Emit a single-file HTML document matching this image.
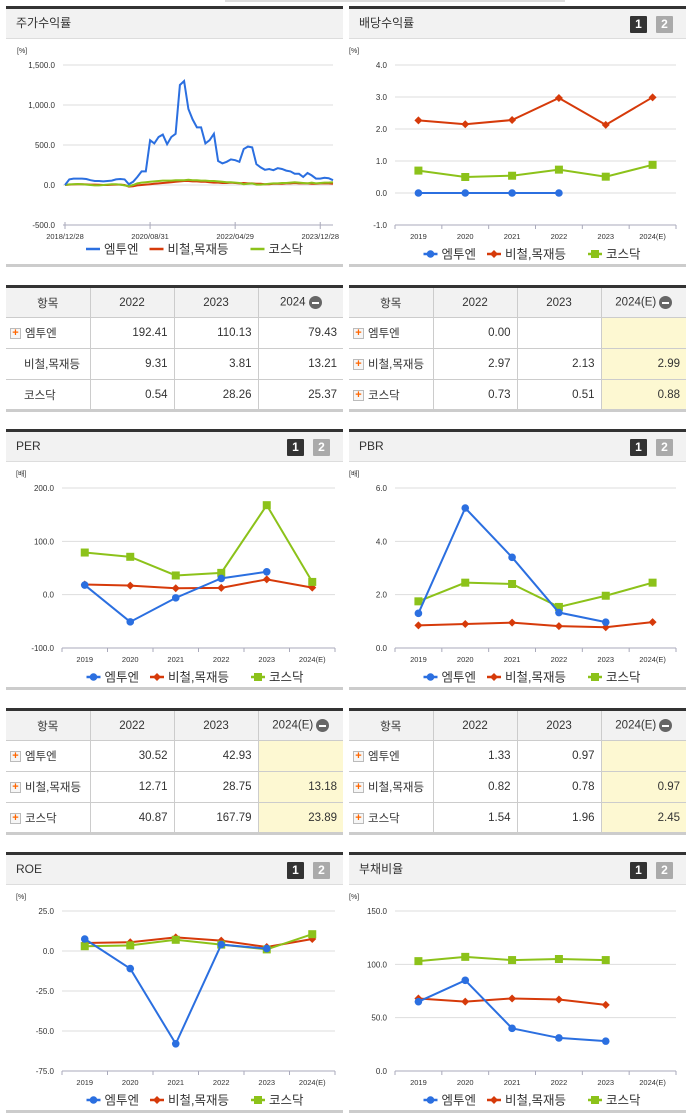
<!DOCTYPE html>
<html><head><meta charset="utf-8">
<style>
*{margin:0;padding:0;box-sizing:border-box}
body{width:691px;height:1115px;background:#fff;position:relative;overflow:hidden;font-family:"Liberation Sans","Noto Sans CJK KR",sans-serif;color:#333}
.abs{position:absolute}
.hdr{position:absolute;height:33px;background:#f2f2f2;border-top:3px solid #333;border-bottom:1px solid #ddd;font-size:12px;line-height:29px;padding-left:10px;color:#333}
.bx{position:absolute;top:7px;width:17px;height:17px;color:#fff;font-size:12px;font-weight:bold;line-height:17px;text-align:center;border-radius:1px}
.foot{position:absolute;height:3px;background:#ccc}
table{position:absolute;border-collapse:collapse;font-size:11.5px;border-top:3px solid #333;border-bottom:3px solid #ccc}
td,th{border:1px solid #ccc;height:31px;font-weight:normal}
tr td:first-child,tr th:first-child{border-left:none}
tr td:last-child,tr th:last-child{border-right:none}
th{background:#f2f2f2;text-align:center}
td{text-align:right;padding-right:6px}
td.n{text-align:left;padding-left:4px}
td.y{background:#fdf8d2}
.pl{display:inline-block;width:11px;height:11px;border:1px solid #bbb;background:#f6f6f6;color:#f60;font-size:11px;line-height:9px;text-align:center;font-weight:bold;vertical-align:middle;margin-right:4px}
.mi{display:inline-block;width:13px;height:13px;border-radius:50%;background:#666;vertical-align:middle;position:relative;margin-left:3px}
.mi:after{content:"";position:absolute;left:3px;top:6px;width:7px;height:2px;background:#fff}
</style></head><body>
<div class="abs" style="left:225px;top:0;width:340px;height:2px;background:#ddd"></div>

<div class="hdr" style="left:6px;top:6px;width:337px">주가수익률</div>
<div class="hdr" style="left:349px;top:6px;width:337px">배당수익률<div class="bx" style="left:281px;background:#333">1</div><div class="bx" style="left:307px;background:#aaa">2</div></div>
<div class="hdr" style="left:6px;top:429px;width:337px">PER<div class="bx" style="left:281px;background:#333">1</div><div class="bx" style="left:307px;background:#aaa">2</div></div>
<div class="hdr" style="left:349px;top:429px;width:337px">PBR<div class="bx" style="left:281px;background:#333">1</div><div class="bx" style="left:307px;background:#aaa">2</div></div>
<div class="hdr" style="left:6px;top:852px;width:337px">ROE<div class="bx" style="left:281px;background:#333">1</div><div class="bx" style="left:307px;background:#aaa">2</div></div>
<div class="hdr" style="left:349px;top:852px;width:337px">부채비율<div class="bx" style="left:281px;background:#333">1</div><div class="bx" style="left:307px;background:#aaa">2</div></div>

<div class="foot" style="left:6px;top:264px;width:337px"></div>
<div class="foot" style="left:349px;top:264px;width:337px"></div>
<div class="foot" style="left:6px;top:687px;width:337px"></div>
<div class="foot" style="left:349px;top:687px;width:337px"></div>
<div class="foot" style="left:6px;top:1110px;width:337px"></div>
<div class="foot" style="left:349px;top:1110px;width:337px"></div>

<table style="left:6px;top:285px;width:337px">
<tr><th style="width:84px">항목</th><th style="width:84px">2022</th><th style="width:84px">2023</th><th>2024<span class="mi"></span></th></tr>
<tr><td class="n"><span class="pl">+</span>엠투엔</td><td>192.41</td><td>110.13</td><td>79.43</td></tr>
<tr><td class="n" style="padding-left:18px">비철,목재등</td><td>9.31</td><td>3.81</td><td>13.21</td></tr>
<tr><td class="n" style="padding-left:18px">코스닥</td><td>0.54</td><td>28.26</td><td>25.37</td></tr>
</table>
<table style="left:349px;top:285px;width:337px">
<tr><th style="width:84px">항목</th><th style="width:84px">2022</th><th style="width:84px">2023</th><th>2024(E)<span class="mi"></span></th></tr>
<tr><td class="n"><span class="pl">+</span>엠투엔</td><td>0.00</td><td></td><td class="y"></td></tr>
<tr><td class="n"><span class="pl">+</span>비철,목재등</td><td>2.97</td><td>2.13</td><td class="y">2.99</td></tr>
<tr><td class="n"><span class="pl">+</span>코스닥</td><td>0.73</td><td>0.51</td><td class="y">0.88</td></tr>
</table>
<table style="left:6px;top:708px;width:337px">
<tr><th style="width:84px">항목</th><th style="width:84px">2022</th><th style="width:84px">2023</th><th>2024(E)<span class="mi"></span></th></tr>
<tr><td class="n"><span class="pl">+</span>엠투엔</td><td>30.52</td><td>42.93</td><td class="y"></td></tr>
<tr><td class="n"><span class="pl">+</span>비철,목재등</td><td>12.71</td><td>28.75</td><td class="y">13.18</td></tr>
<tr><td class="n"><span class="pl">+</span>코스닥</td><td>40.87</td><td>167.79</td><td class="y">23.89</td></tr>
</table>
<table style="left:349px;top:708px;width:337px">
<tr><th style="width:84px">항목</th><th style="width:84px">2022</th><th style="width:84px">2023</th><th>2024(E)<span class="mi"></span></th></tr>
<tr><td class="n"><span class="pl">+</span>엠투엔</td><td>1.33</td><td>0.97</td><td class="y"></td></tr>
<tr><td class="n"><span class="pl">+</span>비철,목재등</td><td>0.82</td><td>0.78</td><td class="y">0.97</td></tr>
<tr><td class="n"><span class="pl">+</span>코스닥</td><td>1.54</td><td>1.96</td><td class="y">2.45</td></tr>
</table>

<svg id="cv" class="abs" style="left:0;top:0" width="691" height="1115" font-family="Liberation Sans, Noto Sans CJK KR, sans-serif"></svg>

<script>
const srM2N=[0,70,80,80,80,75,60,50,50,45,50,55,70,75,70,10,40,100,170,170,560,520,600,630,510,600,640,1250,1300,950,820,720,720,520,560,640,300,270,290,320,310,290,450,480,470,260,220,190,200,185,210,200,180,170,140,140,100,150,120,80,80,90,85,60];
const srInd=[0,5,8,10,10,8,5,5,3,0,0,2,5,5,0,-20,-15,-5,0,5,10,15,20,25,30,35,40,45,50,50,45,45,40,40,35,30,30,25,25,30,25,20,25,20,20,15,15,10,10,15,15,15,20,20,25,20,20,20,15,15,20,20,20,15];
const srKosdaq=[0,8,10,12,10,5,0,-5,-5,0,5,10,10,5,-5,-15,0,20,30,35,40,45,50,55,55,55,60,60,60,65,60,60,55,55,50,50,45,40,35,35,30,25,10,15,20,5,5,10,15,20,20,25,25,30,35,30,25,20,30,20,25,30,30,35];
const srTicks=[1500,1000,500,0,-500];
const srTickLbl=["1,500.0","1,000.0","500.0","0.0","-500.0"];
const srDateLbl=["2018/12/28","2020/08/31","2022/04/29","2023/12/28"];
const srDateIdx=[0,20,40,60];

const years=["2019","2020","2021","2022","2023","2024(E)"];
const divM2N=[0,0,0,0,null,null], divInd=[2.27,2.15,2.28,2.97,2.13,2.99], divKos=[0.7,0.5,0.54,0.73,0.51,0.88];
const divTicks=[4,3,2,1,0,-1], divLbl=["4.0","3.0","2.0","1.0","0.0","-1.0"];
const perM2N=[18,-51,-6,30.52,42.93,null], perInd=[19,17,12,12.71,28.75,13.18], perKos=[79,71,36,40.87,167.79,23.89];
const perTicks=[200,100,0,-100], perLbl=["200.0","100.0","0.0","-100.0"];
const pbrM2N=[1.3,5.25,3.4,1.33,0.97,null], pbrInd=[0.85,0.9,0.95,0.82,0.78,0.97], pbrKos=[1.75,2.45,2.4,1.54,1.96,2.45];
const pbrTicks=[6,4,2,0], pbrLbl=["6.0","4.0","2.0","0.0"];
const roeM2N=[7.5,-11,-58,4,1.5,null], roeInd=[5,5.5,8.5,6.5,2.5,7.5], roeKos=[3,3.5,7,4,1,10.5];
const roeTicks=[25,0,-25,-50,-75], roeLbl=["25.0","0.0","-25.0","-50.0","-75.0"];
const debtM2N=[65,85,40,31,28,null], debtInd=[68,65,68,67,62,null], debtKos=[103,107,104,105,104,null];
const debtTicks=[150,100,50,0], debtLbl=["150.0","100.0","50.0","0.0"];

const NS="http://www.w3.org/2000/svg", cv=document.getElementById('cv');
const BLUE="#2b6fe0", RED="#d63a0a", GREEN="#8cc21a";
function mk(t,a,p){const e=document.createElementNS(NS,t);for(const k in a)e.setAttribute(k,a[k]);(p||cv).appendChild(e);return e;}
function txt(x,y,s,a,p){const e=mk('text',Object.assign({x:x,y:y,'font-size':8,fill:'#333'},a||{}),p);e.textContent=s;return e;}

function frame(g,L,R,T,B,ticks,lbls,unit){
  const min=ticks[ticks.length-1],max=ticks[0];
  const ys=v=>B-(v-min)/(max-min)*(B-T);
  txt(L-46,T-12,unit,{'font-size':7},g);
  ticks.forEach((t,i)=>{
    if(i<ticks.length-1){const l=mk('line',{x1:L,x2:R,y1:ys(t),y2:ys(t),stroke:'#ddd'},g);}
    const tl=txt(L-8,ys(t)+3,lbls[i],{'text-anchor':'end'},g);
  });
  mk('line',{x1:L,x2:R,y1:B,y2:B,stroke:'#aab'},g);
  return ys;
}
function legend(g,cx,y,markers){
  const items=[["엠투엔",BLUE,"circle"],["비철,목재등",RED,"diamond"],["코스닥",GREEN,"square"]];
  let x=cx-112;
  items.forEach(it=>{
    const lg=mk('g',{},g);
    mk('line',{x1:x,x2:x+14,y1:y,y2:y,stroke:it[1],'stroke-width':2.5},lg);
    if(markers) marker(lg,x+7,y,it[2],it[1]);
    txt(x+18,y+4.5,it[0],{'font-size':12.5},lg);
    x+=18+(it[0].length*12.5)+8;
  });
}
function marker(g,x,y,shape,c){
  if(shape=="circle")return mk('circle',{cx:x,cy:y,r:3.8,fill:c},g);
  if(shape=="square")return mk('rect',{x:x-4,y:y-4,width:8,height:8,fill:c},g);
  return mk('polygon',{points:`${x},${y-4} ${x+4},${y} ${x},${y+4} ${x-4},${y}`,fill:c},g);
}
function catChart(name,L,R,T,B,ticks,lbls,unit,series){
  const g=mk('g',{});
  const ys=frame(g,L,R,T,B,ticks,lbls,unit);
  const n=years.length,w=(R-L)/n,xs=i=>L+w*(i+0.5);
  for(let i=0;i<=n;i++)mk('line',{x1:L+w*i,x2:L+w*i,y1:B,y2:B+4,stroke:'#aab'},g);
  years.forEach((y,i)=>{const t=txt(xs(i),B+14,y,{'text-anchor':'middle','font-size':7.5},g);});
  series.forEach(s=>{
    let d="";s.v.forEach((v,i)=>{if(v==null)return;d+=(d?"L":"M")+xs(i)+","+ys(v);});
    const p=mk('path',{d:d,fill:'none',stroke:s.c,'stroke-width':2},g);
    s.v.forEach((v,i)=>{if(v==null)return;const m=marker(g,xs(i),ys(v),s.m,s.c);});
  });
  legend(g,(L+R)/2,B+29,true);
}
function ser(a,b,c){return [{v:b,c:RED,m:"diamond"},{v:c,c:GREEN,m:"square"},{v:a,c:BLUE,m:"circle"}];}

(function(){
  const g=mk('g',{});
  const L=63,R=333,T=65,B=225;
  const ys=frame(g,L,R,T,B,srTicks,srTickLbl,"[%]");
  const xs=i=>L+2+i*(R-L-2)/(srM2N.length-1);
  srDateIdx.forEach((d,i)=>{mk('line',{x1:xs(d),x2:xs(d),y1:B-3,y2:B+4,stroke:'#aab'},g);const t=txt(xs(d),B+14,srDateLbl[i],{'text-anchor':'middle','font-size':7.5},g);});
  [[srInd,RED],[srKosdaq,GREEN],[srM2N,BLUE]].forEach(s=>{
    const p=mk('path',{d:s[0].map((v,i)=>(i?"L":"M")+xs(i).toFixed(1)+","+ys(v).toFixed(1)).join(""),fill:'none',stroke:s[1],'stroke-width':2},g);
    
  });
  legend(g,198,B+24,false);
})();

catChart('dividend-chart',395,676,65,225,divTicks,divLbl,"[%]",ser(divM2N,divInd,divKos));
catChart('per-chart',62,335,488,648,perTicks,perLbl,"[배]",ser(perM2N,perInd,perKos));
catChart('pbr-chart',395,676,488,648,pbrTicks,pbrLbl,"[배]",ser(pbrM2N,pbrInd,pbrKos));
catChart('roe-chart',62,335,911,1071,roeTicks,roeLbl,"[%]",ser(roeM2N,roeInd,roeKos));
catChart('debt-ratio-chart',395,676,911,1071,debtTicks,debtLbl,"[%]",ser(debtM2N,debtInd,debtKos));
</script>
</body></html>
